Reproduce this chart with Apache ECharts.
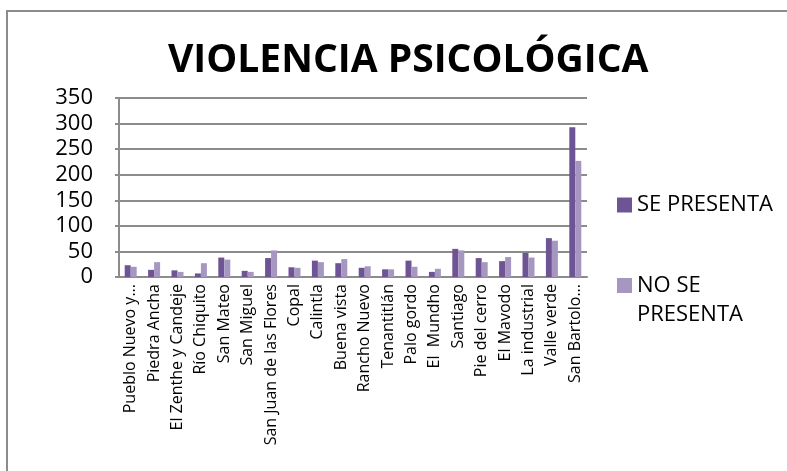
<!DOCTYPE html>
<html>
<head>
<meta charset="utf-8">
<script src="https://cdn.jsdelivr.net/npm/echarts@6/dist/echarts.min.js"></script>
<style>
  html, body { margin: 0; padding: 0; background: #fff; }
  #grafica { width: 787px; height: 471px; }
</style>
</head>
<body>
<div id="grafica"></div>
<script>
var localidades = ['Pueblo Nuevo y...', 'Piedra Ancha', 'El Zenthe y Candeje', 'Río Chiquito', 'San Mateo',
  'San Miguel', 'San Juan de las Flores', 'Copal', 'Calintla', 'Buena vista', 'Rancho Nuevo',
  'Tenantitlán', 'Palo gordo', 'El  Mundho', 'Santiago', 'Pie del cerro', 'El Mavodo',
  'La industrial', 'Valle verde', 'San Bartolo...'];
var sePresenta = [23, 14, 13, 7, 38, 12, 37, 19, 32, 27, 18, 15, 32, 10, 55, 37, 31, 47, 76, 293];
var noSePresenta = [20, 29, 10, 27, 34, 10, 52, 18, 29, 35, 21, 15, 20, 16, 52, 29, 39, 38, 71, 227];
var ejeY = { min: 0, max: 350, interval: 50 };

var dom = document.getElementById('grafica');
var myChart = echarts.init(dom, null, { renderer: 'canvas' });
var fuente = '"Open Sans", sans-serif';

var option = {
    animation: false,
    backgroundColor: '#fff',
    title: {
        text: 'VIOLENCIA PSICOLÓGICA',
        left: 163,
        top: 36,
        textStyle: {
            fontFamily: fuente,
            fontWeight: 'bold',
            fontSize: 39,
            color: '#000'
        }
    },
    graphic: [{
        type: 'rect',
        shape: { x: 7, y: 11, width: 800, height: 480 },
        style: { fill: 'none', stroke: '#8c8c8c', lineWidth: 2 }
    }],
    legend: [{
        data: ['SE PRESENTA'],
        orient: 'vertical',
        left: 612,
        top: 189,
        icon: 'rect',
        itemWidth: 15,
        itemHeight: 15,
        textStyle: { fontFamily: fuente, fontSize: 22, color: '#000' }
    }, {
        data: ['NO SE PRESENTA'],
        orient: 'vertical',
        left: 612,
        top: 237,
        icon: 'rect',
        itemWidth: 15,
        itemHeight: 15,
        // linea vacia arriba para que el cuadro quede junto a "NO SE"
        formatter: function (n) { return ' \nNO SE\nPRESENTA'; },
        textStyle: { fontFamily: fuente, fontSize: 22, color: '#000', lineHeight: 29 }
    }],
    grid: {
        left: 119,
        right: 200,
        top: 98,
        bottom: 194,
        containLabel: false
    },
    xAxis: {
        type: 'category',
        data: localidades,
        axisLine: { lineStyle: { color: '#8c8c8c', width: 2 } },
        axisTick: { show: false },
        axisLabel: {
            rotate: 90,
            interval: 0,
            margin: 7,
            fontFamily: fuente,
            fontSize: 16,
            color: '#000'
        }
    },
    yAxis: {
        type: 'value',
        min: ejeY.min,
        max: ejeY.max,
        interval: ejeY.interval,
        axisLine: { show: true, lineStyle: { color: '#8c8c8c', width: 2 } },
        axisTick: { show: true, length: 4, lineStyle: { color: '#8c8c8c', width: 2 } },
        splitLine: { lineStyle: { color: '#8c8c8c', width: 2 } },
        axisLabel: {
            margin: 26,
            fontFamily: fuente,
            fontSize: 22,
            color: '#000'
        }
    },
    series: [{
        name: 'SE PRESENTA',
        type: 'bar',
        data: sePresenta,
        barWidth: 6,
        barGap: '0%',
        itemStyle: { color: '#6e5494' }
    }, {
        name: 'NO SE PRESENTA',
        type: 'bar',
        data: noSePresenta,
        barWidth: 6,
        itemStyle: { color: '#a697c0' }
    }]
};
myChart.setOption(option, true);
window.onresize = myChart.resize;
</script>
</body>
</html>
